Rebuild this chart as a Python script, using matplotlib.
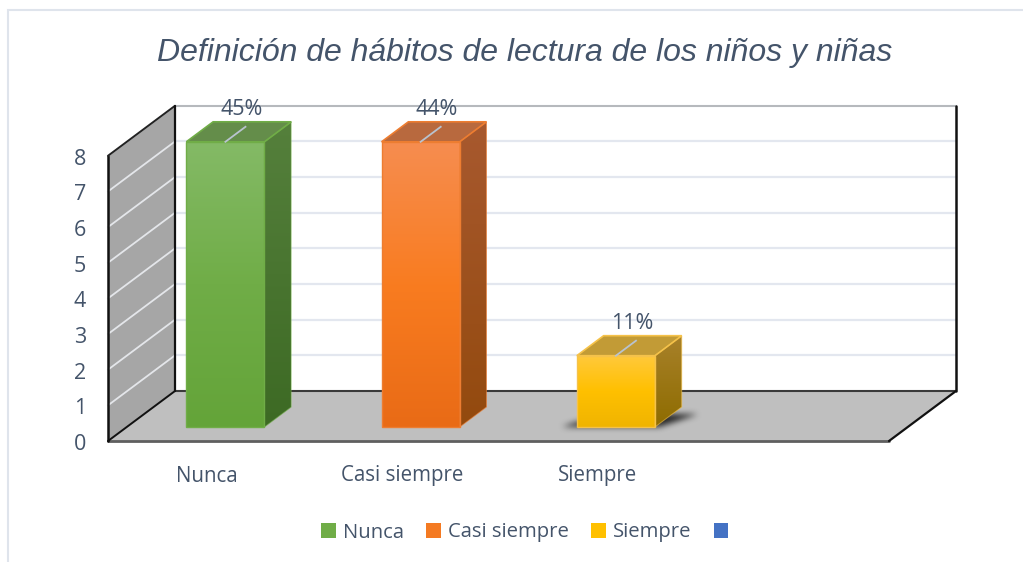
import numpy as np
import matplotlib
matplotlib.use('Agg')
import matplotlib.pyplot as plt
from matplotlib.colors import LinearSegmentedColormap
from matplotlib.patches import Patch, Polygon, Rectangle
from matplotlib.path import Path

title = 'Definición de hábitos de lectura de los niños y niñas'
categories = ['Nunca', 'Casi siempre', 'Siempre', '']
values = [8, 8, 2]
value_labels = ['45%', '44%', '11%']
y_ticks = [0, 1, 2, 3, 4, 5, 6, 7, 8]

# pixel geometry of the fake 3d box
X0, Y0 = 108, 441
FLOOR_W = 781
UNIT = 35.65
DX, DY = 67, 50
CAT_W = FLOOR_W / len(categories)
BAR_W = 0.40
BAR_SHIFT = 1.0
Z_FRONT, Z_BACK = 0.28, 0.68

TEXT = '#44546a'
BODY_FONT = ['Open Sans', 'DejaVu Sans']

front_cols = [['#84ba66', '#70ad47', '#64a439'],
              ['#f68d50', '#f97c20', '#e96b16'],
              ['#ffc93c', '#ffc000', '#f0b400']]
side_cols = [['#55803c', '#3d6a24'], ['#a8592f', '#934a0e'], ['#a8812a', '#8e6c00']]
top_cols = ['#648d4a', '#b8693e', '#c29b36']
edge_cols = ['#70ad47', '#ed7d31', '#f5c24a']
legend_cols = ['#70ad47', '#f47a22', '#ffc000', '#4472c4']


def proj(cat, val, z):
    # cat in category units, val in axis units, z 0 front to 1 back
    return X0 + cat * CAT_W + z * DX, Y0 - val * UNIT - z * DY


def shade(ax, pts, cols, zorder):
    poly = Polygon(pts, closed=True, transform=ax.transData, fc='none', ec='none')
    ax.add_patch(poly)
    xs, ys = zip(*pts)
    cmap = LinearSegmentedColormap.from_list('g', cols)
    im = ax.imshow(np.linspace(0, 1, 128).reshape(-1, 1), cmap=cmap, aspect='auto',
                   extent=(min(xs), max(xs), max(ys), min(ys)), origin='upper',
                   zorder=zorder, interpolation='bilinear')
    im.set_clip_path(poly)


def soft_shadow(ax, pts, blur, zorder, strength=0.95):
    # blurred dark footprint on the floor
    xs, ys = zip(*pts)
    m = blur * 3
    gx = np.arange(min(xs) - m, max(xs) + m)
    gy = np.arange(min(ys) - m, max(ys) + m)
    xx, yy = np.meshgrid(gx, gy)
    mask = Path(pts).contains_points(np.c_[xx.ravel(), yy.ravel()]).reshape(xx.shape).astype(float)
    kern = np.ones(blur) / blur
    for _ in range(3):
        mask = np.apply_along_axis(lambda r: np.convolve(r, kern, mode='same'), 0, mask)
        mask = np.apply_along_axis(lambda r: np.convolve(r, kern, mode='same'), 1, mask)
    rgba = np.zeros(mask.shape + (4,))
    rgba[..., :3] = 0.12
    rgba[..., 3] = mask * strength
    im = ax.imshow(rgba, extent=(gx[0], gx[-1], gy[-1], gy[0]), origin='upper',
                   aspect='auto', zorder=zorder, interpolation='bilinear')
    floor = Polygon([proj(0, 0, 0), proj(len(categories), 0, 0), proj(len(categories), 0, 1), proj(0, 0, 1)],
                    transform=ax.transData, fc='none', ec='none')
    ax.add_patch(floor)
    im.set_clip_path(floor)


fig = plt.figure(figsize=(10.23, 5.62), dpi=100)
ax = fig.add_axes([0, 0, 1, 1])

# outer chart frame
ax.add_patch(Rectangle((8, 9.5), 1100, 700, fc='white', ec='#dfe4ec', lw=1.5, zorder=0))

n = len(categories)
# walls and floor
ax.add_patch(Polygon([proj(0, 0, 0), proj(0, 8, 0), proj(0, 8, 1), proj(0, 0, 1)], fc='#a6a6a6', ec='none', zorder=1))
ax.add_patch(Polygon([proj(0, 0, 0), proj(n, 0, 0), proj(n, 0, 1), proj(0, 0, 1)], fc='#bfbfbf', ec='none', zorder=1))

for v in y_ticks[1:]:
    a, b, c = proj(0, v, 0), proj(0, v, 1), proj(n, v, 1)
    ax.plot([a[0], b[0]], [a[1], b[1]], color='#e4e6ea', lw=1.3, zorder=2)
    ax.plot([b[0], c[0]], [b[1], c[1]], color='#e3e7ef', lw=1.6, zorder=2)

for p, q, col, lw in [((0, 8, 1), (n, 8, 1), '#b5b8bc', 1.4),
                      ((0, 0, 1), (n, 0, 1), '#3a3a3a', 1.5),
                      ((0, 0, 0), (n, 0, 0), '#5f5f5f', 2.0),
                      ((0, 0, 0), (0, 8, 0), '#111111', 1.8),
                      ((0, 8, 0), (0, 8, 1), '#222222', 1.4),
                      ((0, 0, 1), (0, 8, 1), '#111111', 1.6),
                      ((n, 0, 1), (n, 8, 1), '#111111', 1.8),
                      ((0, 0, 0), (0, 0, 1), '#111111', 1.4),
                      ((n, 0, 0), (n, 0, 1), '#111111', 1.6)]:
    a, b = proj(*p), proj(*q)
    ax.plot([a[0], b[0]], [a[1], b[1]], color=col, lw=lw, zorder=3, solid_capstyle='round')

# bars
for i, v in enumerate(values):
    c0 = i + 0.5 - BAR_W / 2 + BAR_SHIFT / CAT_W
    c1 = i + 0.5 + BAR_W / 2 + BAR_SHIFT / CAT_W
    if v == min(values):
        # soft shadow under the short bar
        fx0, fy0 = proj(c0, 0, Z_FRONT)
        fx1, fy1 = proj(c1, 0, Z_FRONT)
        bx1, by1 = proj(c1, 0, Z_BACK)
        bx0, by0 = proj(c0, 0, Z_BACK)
        soft_shadow(ax, [(fx0 - 16, fy0 - 2), (fx1 + 4, fy1 - 2), (bx1 + 17, by1 + 5), (bx0, by0 + 5)], 6, 3.5)

    front = [proj(c0, v, Z_FRONT), proj(c1, v, Z_FRONT), proj(c1, 0, Z_FRONT), proj(c0, 0, Z_FRONT)]
    side = [proj(c1, v, Z_FRONT), proj(c1, v, Z_BACK), proj(c1, 0, Z_BACK), proj(c1, 0, Z_FRONT)]
    top = [proj(c0, v, Z_FRONT), proj(c0, v, Z_BACK), proj(c1, v, Z_BACK), proj(c1, v, Z_FRONT)]
    shade(ax, side, side_cols[i], 4)
    ax.add_patch(Polygon(top, fc=top_cols[i], ec=edge_cols[i], lw=1.2, zorder=4.2))
    shade(ax, front, front_cols[i], 4.4)
    ax.add_patch(Polygon(front, fc='none', ec=edge_cols[i], lw=1.0, zorder=4.6))
    ax.add_patch(Polygon(side, fc='none', ec=edge_cols[i], lw=0.7, alpha=0.6, zorder=4.6))

    # leader line and value label
    cx = (c0 + c1) / 2
    a, b = proj(cx, v, Z_FRONT), proj(cx, v, Z_FRONT + 0.3)
    ax.plot([a[0], b[0]], [a[1], b[1]], color='#b9c3cf', lw=1.3, zorder=5)
    ax.text(a[0] + 16, a[1] - 32.5, value_labels[i], color=TEXT, fontsize=15.5,
            family=BODY_FONT, ha='center', va='center', zorder=6)

for v in y_ticks:
    x, y = proj(0, v, 0)
    ax.text(x - 28, y + 3.5, str(v), color=TEXT, fontsize=15.5, family=BODY_FONT, ha='center', va='center')

for i, cat in enumerate(categories):
    x, y = proj(i + 0.5, 0, 0)
    ax.text(x + 1, y + 35, cat, color=TEXT, fontsize=14.8, family=BODY_FONT, ha='center', va='center')

ax.text(525, 53, title, color=TEXT, fontsize=23, style='italic',
        family=['Liberation Sans', 'DejaVu Sans'], ha='center', va='center')

handles = [Patch(fc=c, ec='none') for c in legend_cols]
ax.legend(handles, ['Nunca', 'Casi siempre', 'Siempre', ' '], ncol=4, frameon=False,
          loc='center', bbox_to_anchor=(531 / 1023, 1 - 532.5 / 562),
          prop={'family': BODY_FONT, 'size': 14.6}, labelcolor=TEXT,
          handlelength=0.72, handleheight=0.72, handletextpad=0.35, columnspacing=1.1)

ax.set_xlim(0, 1023)
ax.set_ylim(562, 0)
ax.axis('off')
fig.savefig('out.png', dpi=100)
